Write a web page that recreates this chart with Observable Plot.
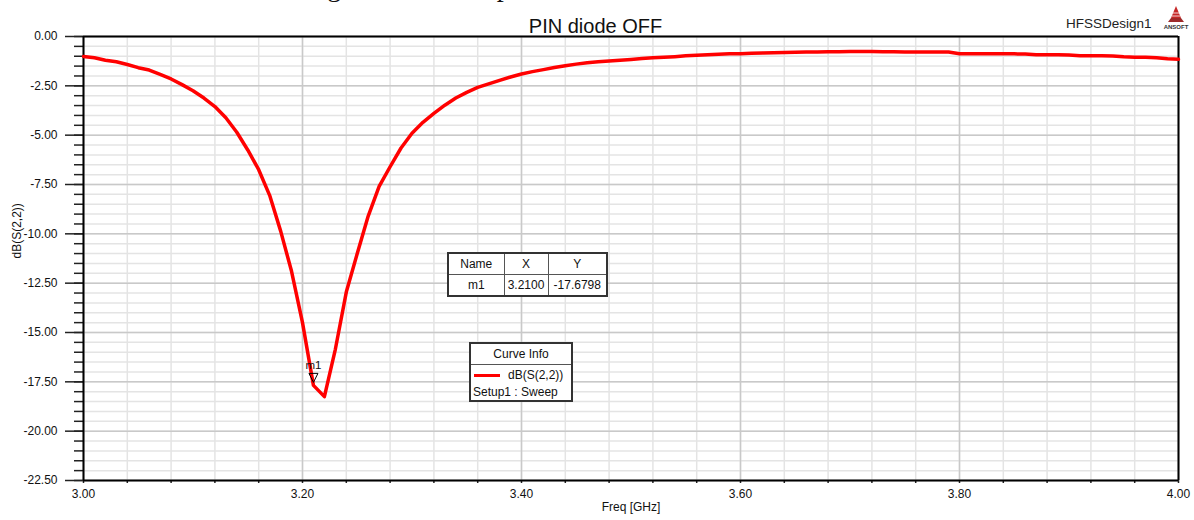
<!DOCTYPE html>
<html><head><meta charset="utf-8">
<script src="https://cdn.jsdelivr.net/npm/d3@7"></script>
<script src="https://cdn.jsdelivr.net/npm/@observablehq/plot@0.6"></script>
<style>
body{margin:0;background:#fff;font-family:"Liberation Sans",Arial,sans-serif;color:#111;}
#wrap{position:relative;width:1194px;height:520px;overflow:hidden;}
#wrap svg.plot{position:absolute;left:0;top:0;}
#mk{position:absolute;left:447px;top:252px;border-collapse:collapse;table-layout:fixed;width:159px;background:#fff;font-size:12px;border:2px solid #333;}
#mk td{border:1.5px solid #555;padding:0;text-align:center;height:20px;line-height:20px;}
#ci{position:absolute;left:469px;top:342px;width:100px;height:56px;border:2px solid #333;background:#fff;font-size:12px;}
#ci .hd{height:20px;line-height:20px;text-align:center;border-bottom:1.5px solid #555;}
#ci .ln{position:absolute;left:3px;top:29.5px;width:26px;height:3px;background:#ff0000;}
#ci .s1{position:absolute;left:37px;top:23px;line-height:16px;white-space:nowrap;}
#ci .s2{position:absolute;left:2px;top:40px;line-height:16px;white-space:nowrap;}
#logo{position:absolute;left:1163px;top:4px;}
</style></head><body><div id="wrap"></div>
<script>
// ---- data ----
const freq = [3.00,3.01,3.02,3.03,3.04,3.05,3.06,3.07,3.08,3.09,
  3.10,3.11,3.12,3.13,3.14,3.15,3.16,3.17,3.18,3.19,
  3.20,3.21,3.22,3.23,3.24,3.25,3.26,3.27,3.28,3.29,
  3.30,3.31,3.32,3.33,3.34,3.35,3.36,3.37,3.38,3.39,
  3.40,3.41,3.42,3.43,3.44,3.45,3.46,3.47,3.48,3.49,
  3.50,3.51,3.52,3.53,3.54,3.55,3.56,3.57,3.58,3.59,
  3.60,3.61,3.62,3.63,3.64,3.65,3.66,3.67,3.68,3.69,
  3.70,3.71,3.72,3.73,3.74,3.75,3.76,3.77,3.78,3.79,
  3.80,3.81,3.82,3.83,3.84,3.85,3.86,3.87,3.88,3.89,
  3.90,3.91,3.92,3.93,3.94,3.95,3.96,3.97,3.98,3.99,4.00];
const s22 = [-1.01,-1.08,-1.20,-1.28,-1.42,-1.58,-1.70,-1.92,-2.15,-2.44,
  -2.75,-3.12,-3.55,-4.12,-4.85,-5.75,-6.75,-8.05,-9.85,-11.90,
  -14.50,-17.68,-18.25,-15.85,-12.95,-11.00,-9.10,-7.60,-6.60,-5.65,
  -4.90,-4.35,-3.90,-3.48,-3.12,-2.83,-2.58,-2.40,-2.22,-2.05,
  -1.90,-1.78,-1.68,-1.57,-1.48,-1.40,-1.33,-1.28,-1.24,-1.20,
  -1.16,-1.12,-1.08,-1.05,-1.02,-0.98,-0.95,-0.92,-0.90,-0.88,
  -0.87,-0.85,-0.83,-0.82,-0.81,-0.80,-0.79,-0.78,-0.77,-0.77,
  -0.76,-0.76,-0.76,-0.77,-0.77,-0.78,-0.78,-0.79,-0.79,-0.79,
  -0.87,-0.87,-0.87,-0.88,-0.88,-0.88,-0.89,-0.92,-0.93,-0.93,
  -0.94,-0.97,-0.98,-0.98,-0.99,-1.03,-1.05,-1.05,-1.08,-1.13,-1.15];
const xMajor = [3.0,3.2,3.4,3.6,3.8,4.0];
const xMajorLabels = ["3.00","3.20","3.40","3.60","3.80","4.00"];
const xMinor = [3.00,3.04,3.08,3.12,3.16,3.20,3.24,3.28,3.32,3.36,3.40,3.44,3.48,3.52,3.56,3.60,3.64,3.68,3.72,3.76,3.80,3.84,3.88,3.92,3.96,4.00];
const yMajor = [0,-2.5,-5,-7.5,-10,-12.5,-15,-17.5,-20,-22.5];
const yMajorLabels = ["0.00","-2.50","-5.00","-7.50","-10.00","-12.50","-15.00","-17.50","-20.00","-22.50"];
const yMinor = [0,-0.5,-1,-1.5,-2,-2.5,-3,-3.5,-4,-4.5,-5,-5.5,-6,-6.5,-7,-7.5,-8,-8.5,-9,-9.5,-10,-10.5,-11,-11.5,-12,-12.5,-13,-13.5,-14,-14.5,-15,-15.5,-16,-16.5,-17,-17.5,-18,-18.5,-19,-19.5,-20,-20.5,-21,-21.5,-22,-22.5];
const markerNames = ["m1"];
const markerX = [3.21];
const markerY = [-17.6798];
const markerXText = ["3.2100"];
const markerYText = ["-17.6798"];
const tableHeaders = ["Name","X","Y"];
const legendTitle = "Curve Info";
const seriesNames = ["dB(S(2,2))"];
const setupNames = ["Setup1 : Sweep"];
const titleText = "PIN diode OFF";
const designText = "HFSSDesign1";
const xLabel = "Freq [GHz]";
const yLabel = "dB(S(2,2))";
const captionAbove = "The simulated return loss matching of the RF output";

// ---- chart ----
const data = freq.map((f,i)=>({f, v:s22[i]}));
const markers = markerNames.map((n,i)=>({n, x:markerX[i], y:markerY[i]}));
const triDown = {draw(ctx){ctx.moveTo(-4.5,-4.5);ctx.lineTo(4.5,-4.5);ctx.lineTo(0,4.5);ctx.closePath();}};
const font = '"Liberation Sans", Arial, sans-serif';

const plot = Plot.plot({
  width:1194, height:520,
  marginLeft:83, marginRight:16, marginTop:36, marginBottom:40,
  x:{domain:[3,4]},
  y:{domain:[-22.5,0]},
  style:{fontFamily:font, fontSize:"12px", color:"#111", background:"transparent", overflow:"visible"},
  marks:[
    Plot.gridX(xMinor, {stroke:"#e4e4e4", strokeOpacity:1, strokeWidth:1.5}),
    Plot.gridY(yMinor, {stroke:"#e4e4e4", strokeOpacity:1, strokeWidth:1.5}),
    Plot.gridX(xMajor, {stroke:"#c9c9c9", strokeOpacity:1, strokeWidth:1.5}),
    Plot.gridY(yMajor, {stroke:"#c9c9c9", strokeOpacity:1, strokeWidth:1.5}),
    Plot.axisX(xMinor, {tickSize:3, tickFormat:()=>"", label:null, stroke:"#222", strokeWidth:1.5}),
    Plot.axisX(xMajor, {tickSize:0, tickPadding:9, tickFormat:d=>xMajorLabels[xMajor.indexOf(d)], label:null, fill:"#111"}),
    Plot.axisY(yMinor, {tickSize:9, tickFormat:()=>"", label:null, stroke:"#222", strokeWidth:1.5}),
    Plot.axisY(yMajor, {tickSize:18, tickPadding:8, tickFormat:d=>yMajorLabels[yMajor.indexOf(d)], label:null, stroke:"#222", strokeWidth:1.5, fill:"#111"}),
    Plot.ruleX([3,4], {stroke:"#000", strokeWidth:2}),
    Plot.ruleY([0,-22.5], {stroke:"#000", strokeWidth:2}),
    Plot.line(data, {x:"f", y:"v", stroke:"#ff0000", strokeWidth:3.5, strokeLinejoin:"round"}),
    Plot.dot(markers, {x:"x", y:"y", symbol:triDown, r:4.5, stroke:"#000", strokeWidth:1, fill:"none", dy:-7.5}),
    Plot.text(markers, {x:"x", y:"y", text:"n", dy:-20, fontSize:11.5, fill:"#111"}),
    Plot.text([yLabel], {frameAnchor:"left", dx:-66, rotate:-90, fontSize:12, fill:"#111"}),
    Plot.text([xLabel], {frameAnchor:"bottom", dy:30, fontSize:12, fill:"#111"}),
    Plot.text([titleText], {frameAnchor:"top-left", dx:512, dy:-18, textAnchor:"middle", fontSize:20, fill:"#111"}),
    Plot.text([designText], {frameAnchor:"top-right", dx:-27, dy:-18, textAnchor:"end", fontSize:13.5, fill:"#222"}),
    Plot.text([captionAbove], {frameAnchor:"top-left", dx:449, dy:-41, textAnchor:"end", lineAnchor:"bottom", fontSize:28, fontFamily:'"Liberation Serif", "Times New Roman", serif', fill:"#111"})
  ]
});
plot.classList.add("plot");
const wrap = document.getElementById("wrap");
wrap.appendChild(plot);

// marker table
const tbl = document.createElement("table");
tbl.id = "mk";
tbl.innerHTML = '<colgroup><col style="width:56px"><col style="width:44px"><col style="width:59px"></colgroup>' +
  '<tr>' + tableHeaders.map(h=>`<td>${h}</td>`).join("") + '</tr>' +
  markerNames.map((n,i)=>`<tr><td>${n}</td><td>${markerXText[i]}</td><td>${markerYText[i]}</td></tr>`).join("");
wrap.appendChild(tbl);

// curve info legend
const ci = document.createElement("div");
ci.id = "ci";
ci.innerHTML = `<div class="hd">${legendTitle}</div><div class="ln"></div><div class="s1">${seriesNames[0]}</div><div class="s2">${setupNames[0]}</div>`;
wrap.appendChild(ci);

// logo
const logo = document.createElement("div");
logo.id = "logo";
logo.innerHTML = `<svg width="28" height="26" xmlns="http://www.w3.org/2000/svg">
<polygon points="13,2 8,14 18,14" fill="#c62828"/>
<polygon points="8,14 5,18 21,18 18,14" fill="#9e2a2a"/>
<line x1="10" y1="9" x2="16" y2="9" stroke="#fff" stroke-width="0.8"/>
<line x1="9" y1="12" x2="17" y2="12" stroke="#fff" stroke-width="0.8"/>
<text x="13" y="25" text-anchor="middle" font-size="6" font-weight="bold" font-family="Liberation Sans, Arial" fill="#333">ANSOFT</text>
</svg>`;
wrap.appendChild(logo);
</script>
</body></html>
